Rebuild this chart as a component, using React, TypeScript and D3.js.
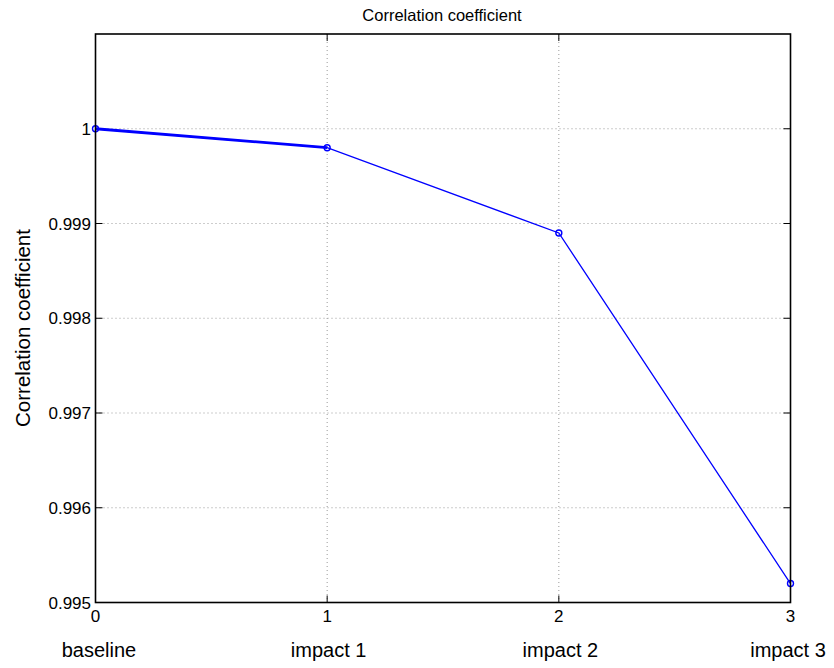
import React from "react";
import * as d3 from "d3";

const categories = ["baseline", "impact 1", "impact 2", "impact 3"];
const xTicks = [0, 1, 2, 3];
const values = [1.0, 0.9998, 0.9989, 0.9952];
const yTicks = [0.995, 0.996, 0.997, 0.998, 0.999, 1];
const yTickLabels = ["0.995", "0.996", "0.997", "0.998", "0.999", "1"];
const title = "Correlation coefficient";
const yLabel = "Correlation coefficient";

const W = 834;
const H = 668;
const left = 95.5;
const right = 790.5;
const top = 34;
const bottom = 602.5;
const FONT = "'Liberation Sans', Arial, Helvetica, sans-serif";
const BLUE = "#0000ff";

export default function App() {
  const x = d3.scaleLinear().domain([0, 3]).range([left, right]);
  const y = d3.scaleLinear().domain([0.995, 1.001]).range([bottom, top]);
  const pts = values.map((v, i) => [x(xTicks[i]), y(v)] as [number, number]);
  const line = d3.line();
  const tickLen = 7;

  return (
    <svg
      width={W}
      height={H}
      style={{ position: "absolute", left: 0, top: 0, display: "block", background: "#fff" }}
    >
      <rect x={0} y={0} width={W} height={H} fill="#fff" />
      {/* grid */}
      {yTicks.map((t) => (
        <line key={"gy" + t} x1={left} x2={right} y1={y(t)} y2={y(t)} stroke="#9a9a9a" strokeWidth={1} strokeDasharray="1,3" />
      ))}
      {xTicks.map((t) => (
        <line key={"gx" + t} x1={x(t)} x2={x(t)} y1={top} y2={bottom} stroke="#9a9a9a" strokeWidth={1} strokeDasharray="1,3" />
      ))}
      {/* tick marks */}
      {yTicks.map((t) => (
        <g key={"ty" + t}>
          <line x1={left} x2={left + tickLen} y1={y(t)} y2={y(t)} stroke="#000" strokeWidth={1} />
          <line x1={right} x2={right - tickLen} y1={y(t)} y2={y(t)} stroke="#000" strokeWidth={1} />
        </g>
      ))}
      {xTicks.map((t) => (
        <g key={"tx" + t}>
          <line x1={x(t)} x2={x(t)} y1={bottom} y2={bottom - tickLen} stroke="#000" strokeWidth={1} />
          <line x1={x(t)} x2={x(t)} y1={top} y2={top + tickLen} stroke="#000" strokeWidth={1} />
        </g>
      ))}
      {/* data */}
      <path d={line(pts) || ""} fill="none" stroke={BLUE} strokeWidth={1.3} />
      <path d={line(pts.slice(0, 2)) || ""} fill="none" stroke={BLUE} strokeWidth={2.8} />
      {pts.map((p, i) => (
        <circle key={"m" + i} cx={p[0]} cy={p[1]} r={3} fill="none" stroke={BLUE} strokeWidth={1.4} />
      ))}
      {/* frame */}
      <rect x={left} y={top} width={right - left} height={bottom - top} fill="none" stroke="#000" strokeWidth={1.6} />
      {/* y tick labels */}
      {yTicks.map((t, i) => (
        <text key={"yl" + t} x={left - 4.5} y={y(t) + 6} textAnchor="end" fontFamily={FONT} fontSize={17} fill="#000">
          {yTickLabels[i]}
        </text>
      ))}
      {/* x tick labels */}
      {xTicks.map((t) => (
        <text key={"xl" + t} x={x(t)} y={bottom + 19.5} textAnchor="middle" fontFamily={FONT} fontSize={17} fill="#000">
          {String(t)}
        </text>
      ))}
      {/* category labels */}
      {categories.map((c, i) => (
        <text key={"c" + c} x={x(xTicks[i]) + (i === 0 ? 3.5 : i === 3 ? -2.5 : 1.5)} y={656.5} textAnchor="middle" fontFamily={FONT} fontSize={20} fill="#000">
          {c}
        </text>
      ))}
      {/* title */}
      <text x={(left + right) / 2 - 1} y={20.5} textAnchor="middle" fontFamily={FONT} fontSize={16.5} fill="#000">
        {title}
      </text>
      {/* y label */}
      <text
        transform={`translate(30,${328}) rotate(-90)`}
        textAnchor="middle"
        fontFamily={FONT}
        fontSize={20.5}
        fill="#000"
      >
        {yLabel}
      </text>
    </svg>
  );
}
